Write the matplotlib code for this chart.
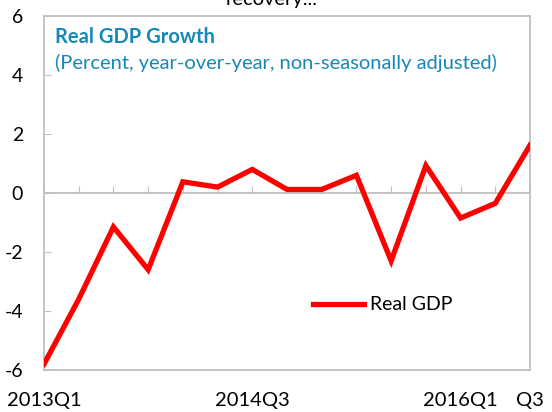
import matplotlib.pyplot as plt
import numpy as np

quarters = ['2013Q1', '2013Q2', '2013Q3', '2013Q4', '2014Q1', '2014Q2', '2014Q3', '2014Q4',
            '2015Q1', '2015Q2', '2015Q3', '2015Q4', '2016Q1', '2016Q2', '2016Q3']
gdp = [-5.8, -3.6, -1.15, -2.6, 0.38, 0.2, 0.8, 0.12, 0.12, 0.6, -2.3, 0.93, -0.85, -0.35, 1.62]
label_idx = [0, 6, 12, 14]
label_txt = ['2013Q1', '2014Q3', '2016Q1', 'Q3']

plt.rcParams['font.family'] = ['Lato', 'DejaVu Sans']
gray = '#BFBFBF'
blue = '#1787B8'

fig = plt.figure(figsize=(5.52, 4.12), dpi=100)
ax = fig.add_axes([44/552, 1-370/412, 486/552, 354/412])

x = np.arange(len(gdp))
ax.plot(x, gdp, color='#FF0000', linewidth=3.8, label='Real GDP', solid_joinstyle='miter', zorder=5)

ax.set_xlim(0, len(gdp)-1)
ax.set_ylim(-6, 6)
ax.set_yticks([-6, -4, -2, 0, 2, 4, 6])
ax.set_yticklabels(['-6', '-4', '-2', '0', '2', '4', '6'])

# zero line carries the quarter ticks
ax.spines['bottom'].set_position(('data', 0))
ax.set_xticks(x)
ax.tick_params(axis='x', direction='in', length=5, color=gray, labelbottom=False)
ax.tick_params(axis='y', direction='in', length=5, color=gray, pad=15, labelsize=14)
for s in ax.spines.values():
    s.set_color(gray)
    s.set_linewidth(1.3)

# bottom edge of the box with the labels
sec = ax.secondary_xaxis('bottom')
sec.set_xticks(label_idx)
sec.set_xticklabels(label_txt)
sec.tick_params(length=0, pad=16, labelsize=14.5)
sec.spines['bottom'].set_color(gray)
sec.spines['bottom'].set_linewidth(1.3)

ax.text(0.022, 0.94, 'Real GDP Growth', transform=ax.transAxes, color=blue,
        fontsize=14.5, fontweight='bold', va='center', ha='left')
ax.text(0.022, 0.866, '(Percent, year-over-year, non-seasonally adjusted)', transform=ax.transAxes,
        color=blue, fontsize=14.5, va='center', ha='left')

ax.legend(loc='center left', bbox_to_anchor=(0.538, 0.184), frameon=False, fontsize=14,
          handlelength=2.6, handletextpad=0.3, borderaxespad=0)

fig.text(272/552, 1-5/412, 'recovery...', ha='center', va='baseline', fontsize=14.5)

plt.savefig('out.png', dpi=100)
